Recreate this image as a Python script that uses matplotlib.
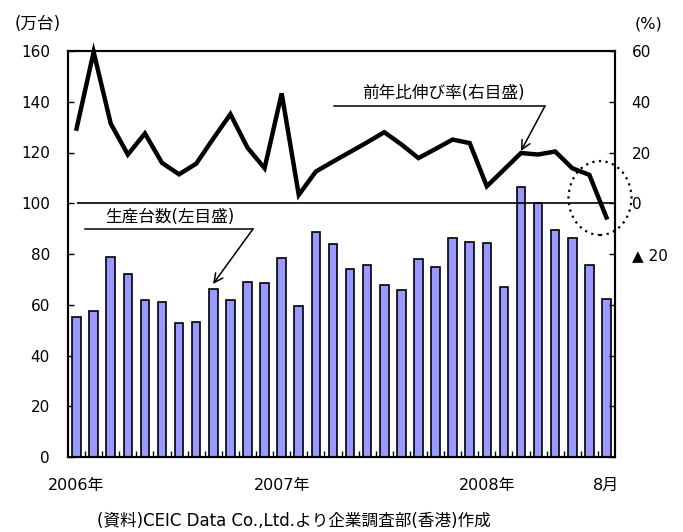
import matplotlib
matplotlib.use("Agg")
import matplotlib.pyplot as plt
import matplotlib.transforms as mtransforms
from matplotlib.patches import Ellipse
from matplotlib.lines import Line2D
import numpy as np

# Latin text and digits in DejaVu, Japanese falls through to Noto CJK
plt.rcParams['font.family'] = ['DejaVu Sans', 'Noto Sans CJK JP']

# Monthly production (10k units), Jan 2006 - Aug 2008
units = [55.0, 57.5, 79.0, 72.0, 62.0, 61.2, 53.0, 53.3, 66.2, 61.7, 69.1, 68.4,
         78.6, 59.5, 88.8, 83.8, 74.2, 75.8, 67.8, 65.8, 78.2, 75.0, 86.3, 84.9,
         84.2, 67.0, 106.4, 100.2, 89.3, 86.2, 75.5, 62.3]
# Year-on-year growth (%)
growth = [29.4, 59.6, 31.4, 19.2, 27.5, 15.9, 11.4, 15.6, 25.5, 35.1, 21.9, 13.8,
          43.3, 3.3, 12.5, 16.4, 20.2, 24.0, 28.0, 23.2, 17.8, 21.4, 25.1, 23.7,
          6.7, 13.2, 19.8, 19.2, 20.4, 13.8, 11.2, -5.6]
period_pos = [0, 12, 24, 31]
period_labels = ['2006年', '2007年', '2008年', '8月']
left_ticks = list(range(0, 161, 20))
right_ticks = list(range(-100, 61, 20))

W, H = 683, 532
fig = plt.figure(figsize=(W / 100, H / 100), dpi=100)
px = mtransforms.IdentityTransform()

ax = fig.add_axes([68 / W, (H - 457) / H, (615 - 68) / W, (457 - 51) / H])
x = np.arange(len(units))
ax.bar(x, units, width=0.5, color='#9999ff', edgecolor='black', linewidth=1.2, zorder=2)
ax.set_xlim(-0.5, len(units) - 0.5)
ax.set_ylim(0, 160)
ax.set_yticks(left_ticks)
ax.tick_params(axis='y', direction='in', length=4, width=1, pad=13, labelsize=11)
ax.set_xticks(period_pos)
ax.set_xticklabels(period_labels)
ax.tick_params(axis='x', which='major', length=0, pad=15, labelsize=11.5)
ax.set_xticks(np.arange(0.5, len(units) - 1, 1), minor=True)
ax.tick_params(axis='x', which='minor', direction='in', length=4, width=1)
for s in ax.spines.values():
    s.set_linewidth(1.5)
ax.hlines(100, 0, len(units) - 0.5, color='black', lw=1.2, zorder=3)

ax2 = ax.twinx()
ax2.set_ylim(-100, 60)
ax2.set_yticks(right_ticks)
ax2.set_yticklabels(['▲ 20' if t == -20 else (str(t) if t > -20 else '') for t in right_ticks])
ax2.tick_params(axis='y', direction='in', length=4, width=1, pad=12, labelsize=11)
for s in ax2.spines.values():
    s.set_linewidth(1.5)
ax2.plot(x, growth, color='black', lw=3.2, solid_joinstyle='miter', clip_on=False, zorder=4)

# unit captions
fig.text(38, H - 24, '(万台)', transform=px, fontsize=12, ha='center', va='center')
fig.text(649, H - 24, '(%)', transform=px, fontsize=11.5, ha='center', va='center')

# series callouts
fig.text(443, H - 93, '前年比伸び率(右目盛)', transform=px, fontsize=12, ha='center', va='center')
fig.add_artist(Line2D([334, 545], [H - 106, H - 106], transform=px, color='black', lw=1.1))
ax2.annotate('', xy=(521, H - 151), xycoords='figure pixels',
             xytext=(545, H - 106), textcoords='figure pixels',
             arrowprops=dict(arrowstyle='->', lw=1.1, color='black',
                             shrinkA=0, shrinkB=0, mutation_scale=16))

fig.text(170, H - 217, '生産台数(左目盛)', transform=px, fontsize=12, ha='center', va='center')
fig.add_artist(Line2D([85, 253], [H - 229, H - 229], transform=px, color='black', lw=1.1))
ax2.annotate('', xy=(213, H - 284), xycoords='figure pixels',
             xytext=(253, H - 229), textcoords='figure pixels',
             arrowprops=dict(arrowstyle='->', lw=1.1, color='black',
                             shrinkA=0, shrinkB=0, mutation_scale=16))

# dotted highlight around the latest month
fig.add_artist(Ellipse((600, H - 198), 63, 74, transform=px, fill=False,
                       edgecolor='black', lw=1.6, linestyle=(0, (1, 2))))

# source note
fig.text(294, H - 521, '(資料)CEIC Data Co.,Ltd.より企業調査部(香港)作成',
         transform=px, fontsize=12, ha='center', va='center')

fig.savefig('out.png', dpi=100)
